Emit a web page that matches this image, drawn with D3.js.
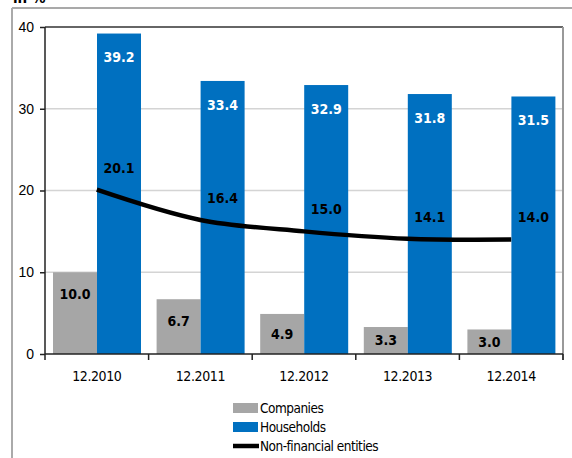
<!DOCTYPE html>
<html>
<head>
<meta charset="utf-8">
<script src="https://cdn.jsdelivr.net/npm/d3@7"></script>
<style>
  body { margin: 0; background: #fff; }
  svg { display: block; font-family: "DejaVu Sans Condensed", "DejaVu Sans", Verdana, sans-serif; }
</style>
</head>
<body>
<svg id="chart"></svg>
<script>
const categories = ['12.2010', '12.2011', '12.2012', '12.2013', '12.2014']
const companies = [10.0, 6.7, 4.9, 3.3, 3.0]
const households = [39.2, 33.4, 32.9, 31.8, 31.5]
const nonFinancial = [20.1, 16.4, 15.0, 14.1, 14.0]
const yTicks = [0, 10, 20, 30, 40]

const W = 572, H = 458
const margin = { top: 27, right: 9, bottom: 104, left: 45 }
const width = W - margin.left - margin.right
const height = H - margin.top - margin.bottom

const svg = d3.select('#chart').attr('width', W).attr('height', H)

// 外框
svg.append('line').attr('x1', 12).attr('x2', W).attr('y1', 8).attr('y2', 8)
  .attr('stroke', '#555').attr('stroke-width', 1.2)
svg.append('line').attr('x1', 12).attr('x2', 12).attr('y1', 8).attr('y2', H)
  .attr('stroke', '#aaa').attr('stroke-width', 2)
svg.append('text').attr('x', 13).attr('y', 3).attr('font-size', 15)
  .attr('font-weight', 'bold').text('in %')

const x = d3.scaleBand().domain(categories).range([0, width])
const y = d3.scaleLinear().domain([0, 40]).range([height, 0])
const inner = d3.scaleBand().domain(['c', 'h']).range([8, x.bandwidth() - 7.6])

const g = svg.append('g').attr('transform', `translate(${margin.left},${margin.top})`)

// 网格线
g.selectAll('.grid').data(yTicks.filter(d => d > 0 && d < 40)).enter()
  .append('line')
  .attr('x1', 0).attr('x2', width)
  .attr('y1', d => y(d)).attr('y2', d => y(d))
  .attr('stroke', '#d4d4d4').attr('stroke-width', 1.5)
g.append('line').attr('x1', 0).attr('x2', width).attr('y1', y(40)).attr('y2', y(40))
  .attr('stroke', '#333').attr('stroke-width', 1.5)
g.append('line').attr('x1', width).attr('x2', width).attr('y1', y(40)).attr('y2', height + 6)
  .attr('stroke', '#999').attr('stroke-width', 2)

// 柱状图
g.selectAll('.bar-c').data(companies).enter().append('rect')
  .attr('x', (d, i) => x(categories[i]) + inner('c'))
  .attr('y', d => y(d))
  .attr('width', inner.bandwidth())
  .attr('height', d => height - y(d))
  .attr('fill', '#a6a6a6')
g.selectAll('.bar-h').data(households).enter().append('rect')
  .attr('x', (d, i) => x(categories[i]) + inner('h'))
  .attr('y', d => y(d))
  .attr('width', inner.bandwidth())
  .attr('height', d => height - y(d))
  .attr('fill', '#0070c0')

// 轴
const yAxis = g.append('g').call(d3.axisLeft(y).tickValues(yTicks).tickSize(5).tickPadding(6).tickFormat(d3.format('d')))
yAxis.select('.domain').attr('stroke', '#222').attr('stroke-width', 1.5).attr('d', `M0,${height}V0`)
yAxis.selectAll('.tick line').attr('stroke', '#222').attr('stroke-width', 1.5)
yAxis.selectAll('text').attr('font-size', 14).attr('fill', '#000').attr('font-family', 'inherit')

const xAxisG = g.append('g').attr('transform', `translate(0,${height})`)
xAxisG.append('line').attr('x1', 0).attr('x2', width).attr('stroke', '#222').attr('stroke-width', 1.5)
xAxisG.selectAll('.xt').data(d3.range(categories.length + 1)).enter().append('line')
  .attr('x1', i => i * x.step()).attr('x2', i => i * x.step())
  .attr('y1', 0).attr('y2', 6).attr('stroke', '#222').attr('stroke-width', 1.5)
xAxisG.selectAll('.xl').data(categories).enter().append('text')
  .attr('x', d => x(d) + x.bandwidth() / 2).attr('y', 27)
  .attr('text-anchor', 'middle').attr('font-size', 14).attr('letter-spacing', -0.4)
  .text(d => d)

// 折线
const line = d3.line()
  .x((d, i) => x(categories[i]) + x.bandwidth() / 2)
  .y(d => y(d))
  .curve(d3.curveCatmullRom.alpha(0.5))
g.append('path').datum(nonFinancial).attr('d', line)
  .attr('fill', 'none').attr('stroke', '#000').attr('stroke-width', 4.5)

// 数据标签
g.selectAll('.lab-h').data(households).enter().append('text')
  .attr('x', (d, i) => x(categories[i]) + inner('h') + inner.bandwidth() / 2)
  .attr('y', d => y(d) + 24)
  .attr('dy', '0.35em').attr('text-anchor', 'middle')
  .attr('font-size', 14).attr('font-weight', 'bold').attr('fill', '#fff')
  .text(d => d.toFixed(1))
g.selectAll('.lab-c').data(companies).enter().append('text')
  .attr('x', (d, i) => x(categories[i]) + inner('c') + inner.bandwidth() / 2)
  .attr('y', d => Math.min(y(d) + 22, (y(d) + height) / 2))
  .attr('dy', '0.35em').attr('text-anchor', 'middle')
  .attr('font-size', 14).attr('font-weight', 'bold').attr('fill', '#000')
  .text(d => d.toFixed(1))
g.selectAll('.lab-n').data(nonFinancial).enter().append('text')
  .attr('x', (d, i) => x(categories[i]) + inner('h') + inner.bandwidth() / 2)
  .attr('y', d => y(d) - 22)
  .attr('dy', '0.35em').attr('text-anchor', 'middle')
  .attr('font-size', 14).attr('font-weight', 'bold').attr('fill', '#000')
  .text(d => d.toFixed(1))

// 图例
const legend = svg.append('g').attr('transform', 'translate(233,400)')
const items = [
  { name: 'Companies', type: 'rect', color: '#a6a6a6' },
  { name: 'Households', type: 'rect', color: '#0070c0' },
  { name: 'Non-financial entities', type: 'line', color: '#000' }
]
items.forEach((it, i) => {
  const row = legend.append('g').attr('transform', `translate(0,${i * 19})`)
  if (it.type === 'rect') {
    row.append('rect').attr('x', 0).attr('y', 3).attr('width', 25).attr('height', 10).attr('fill', it.color)
  } else {
    row.append('line').attr('x1', 0).attr('x2', 26).attr('y1', 8).attr('y2', 8)
      .attr('stroke', it.color).attr('stroke-width', 4.5)
  }
  row.append('text').attr('x', 27).attr('y', 8).attr('dy', '0.35em')
    .attr('font-size', 13.5).attr('letter-spacing', -0.5).text(it.name)
})
</script>
</body>
</html>
